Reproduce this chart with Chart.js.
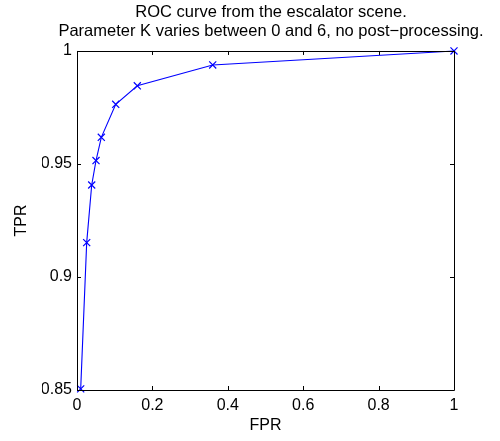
<!DOCTYPE html>
<html lang="en">
<head>
  <meta charset="UTF-8">
  <title>ROC curve - escalator scene</title>
  <script src="https://cdn.jsdelivr.net/npm/chart.js"></script>
  <style>
    html, body { margin: 0; padding: 0; background: #fff; }
  </style>
</head>
<body>
  <canvas id="rocChart" width="500" height="441"></canvas>

  <script>
    // ROC points, K = 0..6
    const fpr = [0.0098, 0.0257, 0.039, 0.0504, 0.0645, 0.1027, 0.16, 0.36, 1];
    const tpr = [0.8505, 0.9152, 0.9407, 0.9515, 0.9618, 0.9764, 0.9846, 0.9938, 1];

    const xTicks = [0, 0.2, 0.4, 0.6, 0.8, 1];
    const xTickLabels = ['0', '0.2', '0.4', '0.6', '0.8', '1'];
    const yTicks = [0.85, 0.9, 0.95, 1];
    const yTickLabels = ['0.85', '0.9', '0.95', '1'];

    const titleLines = ['ROC curve from the escalator scene.', 'Parameter K varies between 0 and 6, no post\u2212processing.'];

    const FONT = 'Liberation Sans, Arial, Helvetica, sans-serif';

    // matlab style box with inward ticks on all four sides
    const boxPlugin = {
      id: 'matlabBox',
      afterDraw(chart) {
        const { ctx, chartArea: a, scales } = chart;
        const len = 4;
        ctx.save();
        ctx.strokeStyle = '#000';
        ctx.lineWidth = 1;
        ctx.beginPath();
        ctx.rect(Math.round(a.left) + 0.5, Math.round(a.top) + 0.5,
                 Math.round(a.right - a.left), Math.round(a.bottom - a.top));
        xTicks.forEach(v => {
          const px = Math.round(scales.x.getPixelForValue(v)) + 0.5;
          ctx.moveTo(px, a.bottom); ctx.lineTo(px, a.bottom - len);
          ctx.moveTo(px, a.top); ctx.lineTo(px, a.top + len);
        });
        yTicks.forEach(v => {
          const py = Math.round(scales.y.getPixelForValue(v)) + 0.5;
          ctx.moveTo(a.left, py); ctx.lineTo(a.left + len, py);
          ctx.moveTo(a.right, py); ctx.lineTo(a.right - len, py);
        });
        ctx.stroke();
        ctx.restore();
      }
    };

    const ctx = document.getElementById('rocChart').getContext('2d');
    const rocChart = new Chart(ctx, {
      type: 'scatter',
      data: {
        datasets: [{
          label: 'ROC',
          data: fpr.map((x, i) => ({ x: x, y: tpr[i] })),
          showLine: true,
          borderColor: '#0000ff',
          backgroundColor: '#0000ff',
          borderWidth: 1.1,
          pointStyle: 'crossRot',
          pointRadius: 5,
          pointBorderWidth: 1.2,
          pointBorderColor: '#0000ff',
          clip: false
        }]
      },
      options: {
        responsive: false,
        animation: false,
        // left padding pushes the title centre over the axes
        layout: { padding: { left: 42, right: 0, top: 0, bottom: 0 } },
        plugins: {
          legend: { display: false },
          tooltip: { enabled: false },
          title: {
            display: true,
            text: titleLines,
            color: '#000',
            font: { family: FONT, size: 16.5, weight: 'normal', lineHeight: 1.12 },
            padding: { top: 3.5, bottom: 10.5 }
          }
        },
        scales: {
          x: {
            type: 'linear',
            min: 0, max: 1,
            afterFit: s => { s.height = 51; },
            afterBuildTicks: s => { s.ticks = xTicks.map(v => ({ value: v })); },
            ticks: {
              color: '#000',
              padding: 6,
              maxRotation: 0,
              font: { family: FONT, size: 16 },
              callback: (v, i) => xTickLabels[i]
            },
            grid: { display: false, drawTicks: false },
            border: { display: false },
            title: {
              display: true, text: 'FPR', color: '#000',
              font: { family: FONT, size: 16, lineHeight: 1.15 },
              padding: { top: 0, bottom: 6.5 }
            }
          },
          y: {
            type: 'linear',
            min: 0.85, max: 1,
            afterFit: s => { s.width = 35; },
            afterBuildTicks: s => { s.ticks = yTicks.map(v => ({ value: v })); },
            ticks: {
              color: '#000',
              padding: 5,
              font: { family: FONT, size: 16 },
              callback: (v, i) => yTickLabels[i]
            },
            grid: { display: false, drawTicks: false },
            border: { display: false },
            title: {
              display: true, text: 'TPR', color: '#000',
              font: { family: FONT, size: 16, lineHeight: 1.15 },
              padding: { top: -30, bottom: 0 }
            }
          },
          // empty right axis, only reserves the margin on the right
          yRight: {
            type: 'linear',
            position: 'right',
            afterFit: s => { s.width = 46; },
            ticks: { display: false },
            grid: { display: false, drawTicks: false },
            border: { display: false }
          }
        }
      },
      plugins: [boxPlugin]
    });
  </script>
</body>
</html>
